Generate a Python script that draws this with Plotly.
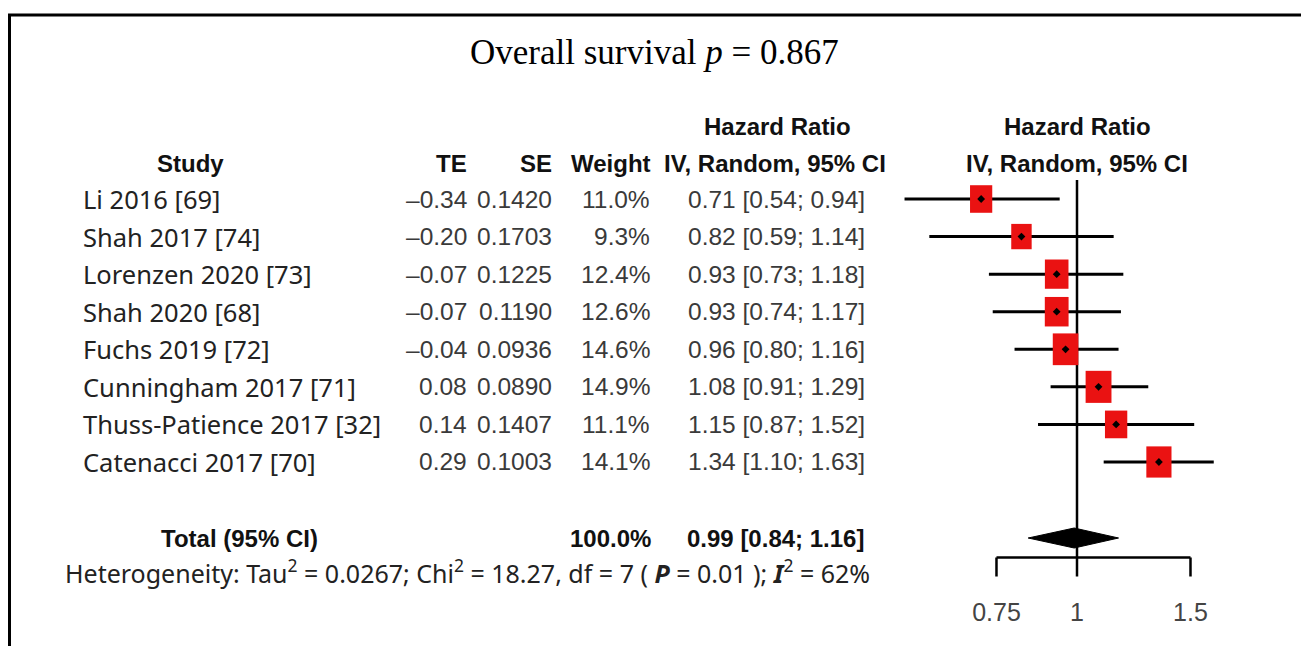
import math
import plotly.graph_objects as go

# ---------------- data ----------------
studies = ["Li 2016 [69]", "Shah 2017 [74]", "Lorenzen 2020 [73]", "Shah 2020 [68]",
           "Fuchs 2019 [72]", "Cunningham 2017 [71]", "Thuss-Patience 2017 [32]",
           "Catenacci 2017 [70]"]
te = [-0.34, -0.20, -0.07, -0.07, -0.04, 0.08, 0.14, 0.29]
se = [0.1420, 0.1703, 0.1225, 0.1190, 0.0936, 0.0890, 0.1407, 0.1003]
weight = [11.0, 9.3, 12.4, 12.6, 14.6, 14.9, 11.1, 14.1]
hr = [0.71, 0.82, 0.93, 0.93, 0.96, 1.08, 1.15, 1.34]
ci_low = [0.54, 0.59, 0.73, 0.74, 0.80, 0.91, 0.87, 1.10]
ci_high = [0.94, 1.14, 1.18, 1.17, 1.16, 1.29, 1.52, 1.63]
total_hr, total_low, total_high, total_weight = 0.99, 0.84, 1.16, 100.0
tick_vals = [0.75, 1, 1.5]
tick_labels = ["0.75", "1", "1.5"]
title_text = "Overall survival <i>p</i> = 0.867"
het_text = ("Heterogeneity: Tau<sup>2</sup> = 0.0267; Chi<sup>2</sup> = 18.27, df = 7 ( "
            "<b><i>P</i></b> = 0.01 ); <b><i>I</i></b><sup>2</sup> = 62%")

# ---------------- geometry ----------------
W, H = 1309, 646
OFF = 8.0                                # page body margin offset
ROW0_PX, ROW_PX = 199.0, 37.57           # reference pixel of row 1 and row spacing
PX_PER_LN = 279.9
X1_PX = 1077.0


def px(x):
    return (x - OFF) / W


def row_of(py):
    return 1 + (py - ROW0_PX) / ROW_PX


y_range = [row_of(H + OFF), row_of(OFF)]
x_range = [math.log10(math.exp(-(X1_PX - OFF) / PX_PER_LN)),
           math.log10(math.exp((W + OFF - X1_PX) / PX_PER_LN))]

rows = list(range(1, len(studies) + 1))
total_row = row_of(538)
het_row = row_of(571)
axis_row = row_of(557.5)
tick_end_row = row_of(576.5)
ticklab_row = row_of(615)
hdr1_row = row_of(126)
hdr2_row = row_of(163)
vline_top = row_of(180)

fig = go.Figure()

# reference line at 1
fig.add_trace(go.Scatter(x=[1, 1], y=[vline_top, axis_row], mode="lines",
                         line=dict(color="black", width=2.5), hoverinfo="skip"))

# whiskers
for r, l, h in zip(rows, ci_low, ci_high):
    fig.add_trace(go.Scatter(x=[l, h], y=[r, r], mode="lines",
                             line=dict(color="black", width=3), hoverinfo="skip"))

# weighted boxes
for r, e, w in zip(rows, hr, weight):
    wpx = 6.7 * math.sqrt(w)
    hpx = 1.24 * wpx
    hw = wpx / 2 / PX_PER_LN
    hh = hpx / 2 / ROW_PX
    x0, x1 = e * math.exp(-hw), e * math.exp(hw)
    fig.add_trace(go.Scatter(x=[x0, x1, x1, x0, x0], y=[r - hh, r - hh, r + hh, r + hh, r - hh],
                             mode="lines", fill="toself", fillcolor="#ea1212",
                             line=dict(color="#ea1212", width=0), hoverinfo="skip"))

# point markers
fig.add_trace(go.Scatter(x=hr, y=rows, mode="markers",
                         marker=dict(symbol="diamond", size=6, color="black"), hoverinfo="skip"))

# summary diamond
dh = 10 / ROW_PX
fig.add_trace(go.Scatter(x=[total_low, total_hr, total_high, total_hr, total_low],
                         y=[total_row, total_row - dh, total_row, total_row + dh, total_row],
                         mode="lines", fill="toself", fillcolor="black",
                         line=dict(color="black", width=1), hoverinfo="skip"))

# custom axis
fig.add_trace(go.Scatter(x=[tick_vals[0], tick_vals[-1]], y=[axis_row, axis_row], mode="lines",
                         line=dict(color="black", width=2.5), hoverinfo="skip"))
for t in tick_vals:
    fig.add_trace(go.Scatter(x=[t, t], y=[axis_row, tick_end_row], mode="lines",
                             line=dict(color="black", width=2.5), hoverinfo="skip"))
fig.add_trace(go.Scatter(x=tick_vals, y=[ticklab_row] * len(tick_vals), mode="text",
                         text=tick_labels, textposition="middle center",
                         textfont=dict(family="Liberation Sans, Arial", size=25, color="#444444"),
                         hoverinfo="skip"))

# ---------------- text ----------------
ann = []
HDR = dict(family="Liberation Sans, Arial", size=24, color="#111111")
NAME = dict(family="Noto Sans, Open Sans, sans-serif", size=25.5, color="#222222")
NUM = dict(family="Liberation Sans, Arial", size=24.5, color="#3a3a3a")


def add(text, xp, y, anchor, font):
    ann.append(dict(text=text, x=px(xp), xref="paper", y=y, yref="y", xanchor=anchor,
                    yanchor="middle", showarrow=False, font=font))


# title
add(title_text, 654, row_of(52), "center",
    dict(family="Liberation Serif, Times New Roman, serif", size=35, color="black"))

# headers
add("<b>Hazard Ratio</b>", 777, hdr1_row, "center", HDR)
add("<b>Hazard Ratio</b>", 1077, hdr1_row, "center", HDR)
add("<b>Study</b>", 190, hdr2_row, "center", HDR)
add("<b>TE</b>", 469, hdr2_row, "right", HDR)
add("<b>SE</b>", 554, hdr2_row, "right", HDR)
add("<b>Weight</b>", 653, hdr2_row, "right", HDR)
add("<b>IV, Random, 95% CI</b>", 775, hdr2_row, "center", HDR)
add("<b>IV, Random, 95% CI</b>", 1077, hdr2_row, "center", HDR)


def fmt_te(v):
    s = f"{abs(v):.2f}"
    return ("\u2013" + s) if v < 0 else s


for r, s, t, e, w, h, l, u in zip(rows, studies, te, se, weight, hr, ci_low, ci_high):
    add(s, 81, r, "left", NAME)
    add(fmt_te(t), 469, r, "right", NUM)
    add(f"{e:.4f}", 554, r, "right", NUM)
    add(f"{w:.1f}%", 652, r, "right", NUM)
    add(f"{h:.2f} [{l:.2f}; {u:.2f}]", 867, r, "right", NUM)

add("<b>Total (95% CI)</b>", 239, total_row, "center", HDR)
add(f"<b>{total_weight:.1f}%</b>", 653, total_row, "right", HDR)
add(f"<b>{total_hr:.2f} [{total_low:.2f}; {total_high:.2f}]</b>", 866, total_row, "right", HDR)
add(het_text, 63, het_row, "left", dict(family="Noto Sans, Open Sans, sans-serif", size=25, color="#222222"))

fig.update_layout(
    width=W, height=H,
    margin=dict(l=0, r=0, t=0, b=0),
    paper_bgcolor="white", plot_bgcolor="white",
    showlegend=False,
    xaxis=dict(type="log", range=x_range, visible=False, domain=[0, 1]),
    yaxis=dict(range=y_range, visible=False, domain=[0, 1]),
    annotations=ann,
    shapes=[dict(type="rect", xref="paper", yref="paper",
                 x0=px(9.5), x1=px(1306.5), y0=-0.05, y1=1 - (15 - OFF) / H,
                 line=dict(color="black", width=3), fillcolor="rgba(0,0,0,0)")],
)

fig.write_html("out.html")
